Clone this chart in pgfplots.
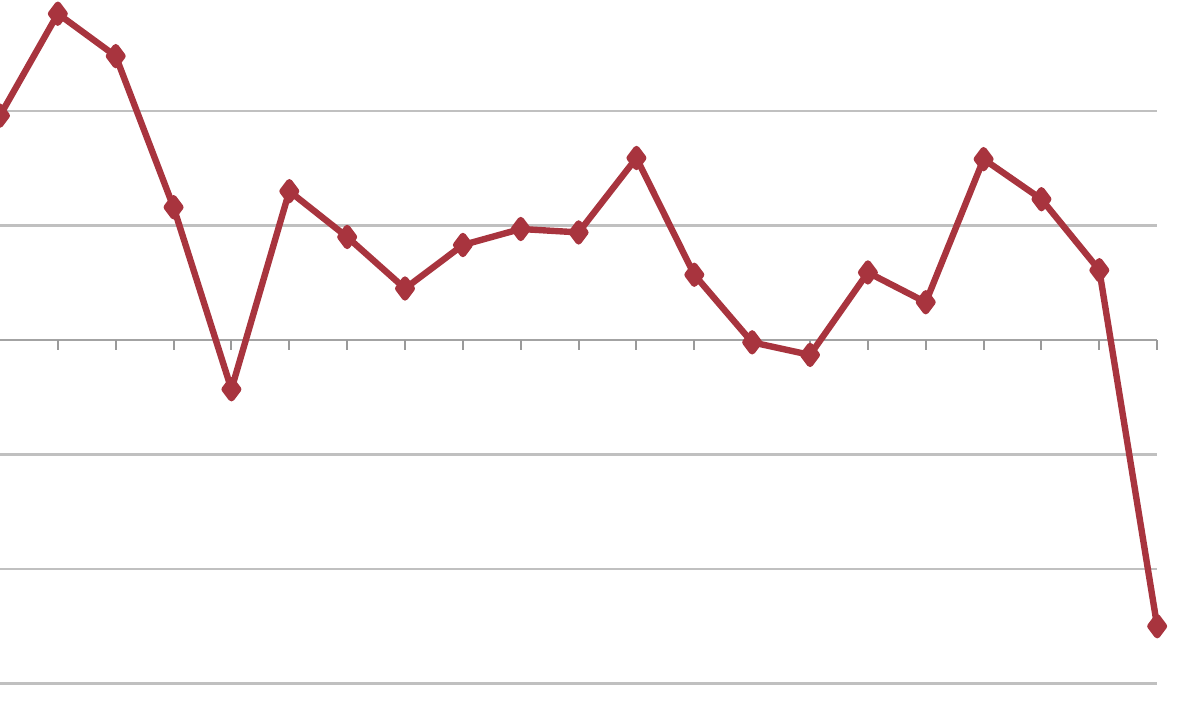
\documentclass[border=0pt]{standalone}
\usepackage{pgfplots}
\pgfplotsset{compat=1.18}
\definecolor{linered}{RGB}{168,52,62}
\definecolor{gridgray}{RGB}{192,192,192}
\begin{document}
\begin{tikzpicture}
 \begin{axis}[
  scale only axis,
  width=600pt, height=363.5pt,
  xmin=0, xmax=20.74,
  ymin=-3.38, ymax=2.97,
  axis line style={draw=none},
  xtick=\empty, ytick=\empty,
  clip=true]
   % horizontal grid lines
   \foreach \g in {-3,-2,-1,1,2} {
     \edef\tmp{\noexpand\addplot[color=gridgray, line width=1.3pt, forget plot]
       coordinates {(0,\g) (20,\g)};}
     \tmp
   }
   % zero line with tick marks
   \addplot[color=gridgray!85!black, line width=1.4pt] coordinates {(0,0) (20,0)};
   \addplot[ycomb, color=gridgray!80!black, line width=1pt, mark=none] coordinates {
    (1,-0.09) (2,-0.09) (3,-0.09) (4,-0.09) (5,-0.09) (6,-0.09) (7,-0.09)
    (8,-0.09) (9,-0.09) (10,-0.09) (11,-0.09) (12,-0.09) (13,-0.09)
    (14,-0.09) (15,-0.09) (16,-0.09) (17,-0.09) (18,-0.09) (19,-0.09) (20,-0.09)
   };
   % series
   \addplot[color=linered, line width=3.2pt, line join=round,
     mark=diamond*, mark size=4.5pt, mark options={solid, fill=linered}] coordinates {
    (0, 1.96)
    (1, 2.85)
    (2, 2.48)
    (3, 1.16)
    (4, -0.43)
    (5, 1.30)
    (6, 0.90)
    (7, 0.45)
    (8, 0.83)
    (9, 0.97)
    (10, 0.94)
    (11, 1.59)
    (12, 0.57)
    (13, -0.02)
    (14, -0.13)
    (15, 0.59)
    (16, 0.33)
    (17, 1.58)
    (18, 1.23)
    (19, 0.61)
    (20, -2.50)
   };
 \end{axis}
 \pgfresetboundingbox
 \path (current axis.south west) rectangle (current axis.north east);
\end{tikzpicture}
\end{document}
